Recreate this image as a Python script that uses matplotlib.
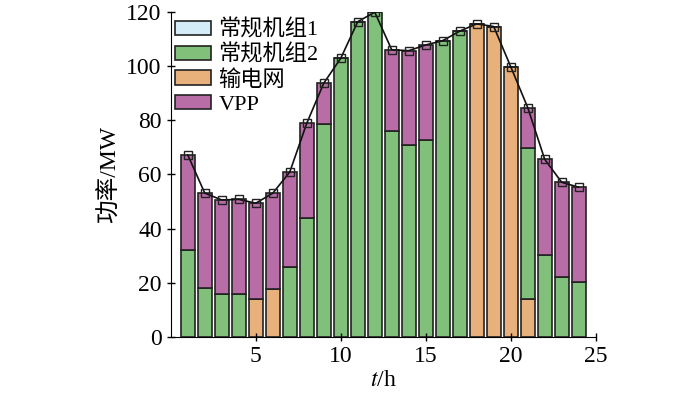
import numpy as np
import matplotlib.pyplot as plt
from matplotlib.patches import Patch

plt.rcParams['font.family'] = ['Liberation Serif', 'Noto Sans CJK SC']
plt.rcParams['mathtext.fontset'] = 'stix'

hours = np.arange(1, 25)
# 常规机组1 没有出力
unit1 = [0] * 24
unit2 = [32, 18, 15.8, 15.9, 0, 0, 26, 43.8, 78.7, 102.9, 116.4, 119.9,
         76.1, 71, 72.9, 109.4, 112.9, 0, 0, 0, 55.5, 30.4, 22, 20.2]
grid_pw = [0, 0, 0, 0, 14, 17.6, 0, 0, 0, 0, 0, 0,
           0, 0, 0, 0, 0, 115.6, 114.6, 99.8, 14.2, 0, 0, 0]
total = [67.2, 53.1, 50.6, 50.8, 49.4, 53.1, 60.9, 78.9, 93.7, 102.9, 116.4, 119.9,
         106, 105.7, 107.8, 109.4, 112.9, 115.6, 114.6, 99.8, 84.7, 65.6, 57.1, 55.3]

u1 = np.array(unit1, dtype=float)
u2 = np.array(unit2, dtype=float)
gp = np.array(grid_pw, dtype=float)
vpp = np.array(total) - u1 - u2 - gp

fig = plt.figure(figsize=(7, 3.97), dpi=100)
ax = fig.add_axes([0.244, 0.151, 0.607, 0.819])

w = 0.8
kw = dict(width=w, edgecolor='#222222', linewidth=1.2)
ax.bar(hours, u1, color='#d4ecf8', **kw)
# 输电网在下，常规机组2在上（第21时段）
ax.bar(hours, gp, bottom=u1, color='#e8b07a', **kw)
ax.bar(hours, u2, bottom=u1 + gp, color='#80c07a', **kw)
ax.bar(hours, vpp, bottom=u1 + gp + u2, color='#b86da7', **kw)
ax.plot(hours, total, color='#111111', linewidth=1.2, marker='s', markersize=6,
        markerfacecolor='none', markeredgecolor='#222222', markeredgewidth=1)

# legend order as in the figure
handles = [Patch(facecolor='#d4ecf8', edgecolor='#222222', linewidth=1.2, label='常规机组1'),
           Patch(facecolor='#80c07a', edgecolor='#222222', linewidth=1.2, label='常规机组2'),
           Patch(facecolor='#e8b07a', edgecolor='#222222', linewidth=1.2, label='输电网'),
           Patch(facecolor='#b86da7', edgecolor='#222222', linewidth=1.2, label='VPP')]
ax.legend(handles=handles, loc='upper left', bbox_to_anchor=(0.0, 0.99),
          frameon=False, fontsize=16,
          handlelength=1.6, handleheight=0.65, labelspacing=0.18,
          borderaxespad=0.1, handletextpad=0.35, borderpad=0.1)

ax.set_xlim(0, 25)
ax.set_ylim(0, 120)
ax.set_xticks([5, 10, 15, 20, 25])
ax.set_yticks(range(0, 121, 20))
ax.spines['top'].set_visible(False)
ax.spines['right'].set_visible(False)
ax.tick_params(axis='both', direction='inout', labelsize=17, length=6, width=1)
ax.set_xlabel('$t$/h', fontsize=17, labelpad=2)
ax.set_ylabel('功率/MW', fontsize=17)

fig.savefig('out.png', dpi=100)
